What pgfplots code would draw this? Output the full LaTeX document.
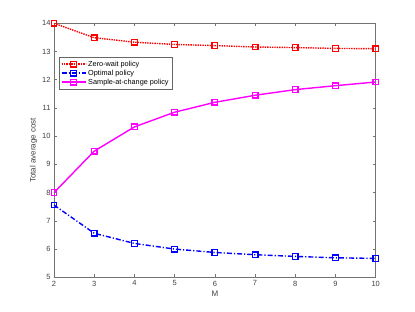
\documentclass[border=0pt]{standalone}
\usepackage{pgfplots}
\pgfplotsset{compat=1.18}
\usepackage{fontspec}
\setmainfont{Liberation Sans}
\definecolor{mred}{rgb}{1,0,0}
\definecolor{mblue}{rgb}{0,0,1}
\definecolor{mmag}{rgb}{1,0,1}
\begin{document}
\begin{tikzpicture}
\path[use as bounding box] (0pt,0pt) rectangle (415pt,312pt);
\begin{axis}[
  at={(54pt,34.7pt)}, anchor=south west,
  scale only axis, width=321.7pt, height=254pt,
  xmin=2, xmax=10, ymin=5, ymax=14,
  xtick={2,...,10}, ytick={5,...,14},
  tick align=inside, major tick length=3pt,
  axis line style={draw=black!55, line width=0.6pt}, tick style={black!55, line width=0.6pt},
  every tick label/.append style={font=\fontsize{7.5}{9}\selectfont, text=black!75},
  /pgf/number format/assume math mode=true,
  xlabel={M}, ylabel={Total average cost},
  label style={font=\fontsize{8}{9.5}\selectfont, text=black!75},
  xlabel style={yshift=2pt},
  ylabel style={yshift=-2pt},
  legend style={at={(0.016,0.867)}, anchor=north west, draw=black!60,
    font=\fontsize{7.3}{8.5}\selectfont, row sep=-1.8pt, inner sep=1.5pt},
  legend cell align=left,
  legend image code/.code={\draw[#1] (0pt,0pt) -- (24pt,0pt); \draw[#1,mark repeat=2,mark phase=2] plot coordinates {(0pt,0pt) (12pt,0pt) (24pt,0pt)};},
  every axis plot/.append style={line width=1.4pt, mark=square, mark size=2.8pt},
]
\addplot[mred, densely dotted, mark options={solid, draw=mred, line width=1.3pt}] coordinates {(2,14.0) (3,13.49) (4,13.33) (5,13.25) (6,13.21) (7,13.16) (8,13.14) (9,13.11) (10,13.10)};
\addlegendentry{Zero-wait policy}
\addplot[mblue, dash pattern=on 5pt off 2pt on 1.2pt off 2pt, mark options={solid, draw=mblue, line width=1.3pt}] coordinates {(2,7.56) (3,6.56) (4,6.20) (5,6.00) (6,5.88) (7,5.80) (8,5.74) (9,5.69) (10,5.67)};
\addlegendentry{Optimal policy}
\addplot[mmag, solid, mark options={solid, draw=mmag, line width=1.3pt}] coordinates {(2,8.0) (3,9.47) (4,10.33) (5,10.85) (6,11.20) (7,11.45) (8,11.65) (9,11.79) (10,11.92)};
\addlegendentry{Sample-at-change policy}
\end{axis}
\end{tikzpicture}
\end{document}
